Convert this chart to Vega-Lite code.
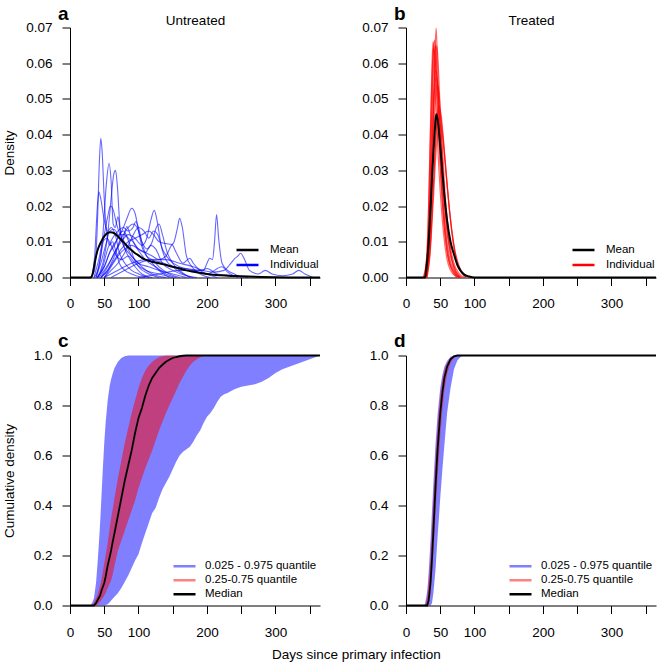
{
"$schema": "https://vega.github.io/schema/vega-lite/v6.json",
"background": "white",
"padding": {"left": 2, "top": 4.5, "right": 5, "bottom": 2},
"config": {
 "font": "Liberation Sans",
 "view": {"stroke": null},
 "axis": {"domainColor": "#000", "tickColor": "#000", "labelColor": "#000", "titleColor": "#000", "labelFont": "Liberation Sans", "titleFont": "Liberation Sans", "labelFontSize": 13.5, "titleFontSize": 13.5, "titleFontWeight": "normal", "grid": false, "tickSize": 8, "domainWidth": 1, "tickWidth": 1, "labelFlush": false, "labelOverlap": false, "tickCount": 10},
 "title": {"font": "Liberation Sans", "color": "#000"}
},
"resolve": {"scale": {"color": "independent"}, "legend": {"color": "independent"}},
"datasets": {
 "untreated": [
{"c":"u1","x":30,"y":0},{"c":"u1","x":36,"y":0.002},{"c":"u1","x":40,"y":0.015},{"c":"u1","x":43,"y":0.033},{"c":"u1","x":45,"y":0.039},{"c":"u1","x":47,"y":0.035},{"c":"u1","x":50,"y":0.022},{"c":"u1","x":54,"y":0.012},{"c":"u1","x":58,"y":0.009},{"c":"u1","x":62,"y":0.01},{"c":"u1","x":66,"y":0.008},{"c":"u1","x":72,"y":0.004},{"c":"u1","x":80,"y":0.002},{"c":"u1","x":90,"y":0.001},{"c":"u1","x":100,"y":0.0003},{"c":"u1","x":110,"y":0},
{"c":"u2","x":32,"y":0},{"c":"u2","x":36,"y":0.006},{"c":"u2","x":40,"y":0.02},{"c":"u2","x":42,"y":0.024},{"c":"u2","x":45,"y":0.022},{"c":"u2","x":50,"y":0.016},{"c":"u2","x":55,"y":0.013},{"c":"u2","x":60,"y":0.014},{"c":"u2","x":66,"y":0.012},{"c":"u2","x":72,"y":0.007},{"c":"u2","x":80,"y":0.004},{"c":"u2","x":90,"y":0.002},{"c":"u2","x":100,"y":0.001},{"c":"u2","x":115,"y":0},
{"c":"u3","x":35,"y":0},{"c":"u3","x":42,"y":0.003},{"c":"u3","x":48,"y":0.012},{"c":"u3","x":53,"y":0.026},{"c":"u3","x":57,"y":0.032},{"c":"u3","x":60,"y":0.027},{"c":"u3","x":63,"y":0.015},{"c":"u3","x":66,"y":0.014},{"c":"u3","x":70,"y":0.017},{"c":"u3","x":74,"y":0.012},{"c":"u3","x":80,"y":0.008},{"c":"u3","x":88,"y":0.005},{"c":"u3","x":95,"y":0.003},{"c":"u3","x":105,"y":0.001},{"c":"u3","x":120,"y":0},
{"c":"u4","x":40,"y":0},{"c":"u4","x":48,"y":0.004},{"c":"u4","x":55,"y":0.012},{"c":"u4","x":60,"y":0.022},{"c":"u4","x":64,"y":0.029},{"c":"u4","x":66.5,"y":0.03},{"c":"u4","x":69,"y":0.026},{"c":"u4","x":73,"y":0.014},{"c":"u4","x":78,"y":0.009},{"c":"u4","x":85,"y":0.007},{"c":"u4","x":95,"y":0.005},{"c":"u4","x":105,"y":0.003},{"c":"u4","x":120,"y":0.001},{"c":"u4","x":140,"y":0},
{"c":"u5","x":38,"y":0},{"c":"u5","x":44,"y":0.005},{"c":"u5","x":50,"y":0.012},{"c":"u5","x":55,"y":0.017},{"c":"u5","x":59,"y":0.02},{"c":"u5","x":63,"y":0.019},{"c":"u5","x":68,"y":0.015},{"c":"u5","x":74,"y":0.012},{"c":"u5","x":80,"y":0.012},{"c":"u5","x":86,"y":0.01},{"c":"u5","x":92,"y":0.006},{"c":"u5","x":100,"y":0.003},{"c":"u5","x":115,"y":0.001},{"c":"u5","x":130,"y":0},
{"c":"u6","x":40,"y":0},{"c":"u6","x":50,"y":0.003},{"c":"u6","x":60,"y":0.008},{"c":"u6","x":70,"y":0.011},{"c":"u6","x":78,"y":0.014},{"c":"u6","x":84,"y":0.017},{"c":"u6","x":90,"y":0.0194},{"c":"u6","x":95,"y":0.018},{"c":"u6","x":100,"y":0.013},{"c":"u6","x":106,"y":0.008},{"c":"u6","x":112,"y":0.006},{"c":"u6","x":120,"y":0.005},{"c":"u6","x":130,"y":0.003},{"c":"u6","x":145,"y":0.001},{"c":"u6","x":160,"y":0},
{"c":"u7","x":45,"y":0},{"c":"u7","x":55,"y":0.003},{"c":"u7","x":65,"y":0.007},{"c":"u7","x":75,"y":0.01},{"c":"u7","x":85,"y":0.012},{"c":"u7","x":95,"y":0.011},{"c":"u7","x":105,"y":0.009},{"c":"u7","x":112,"y":0.011},{"c":"u7","x":118,"y":0.016},{"c":"u7","x":123,"y":0.0188},{"c":"u7","x":128,"y":0.015},{"c":"u7","x":133,"y":0.009},{"c":"u7","x":140,"y":0.005},{"c":"u7","x":150,"y":0.003},{"c":"u7","x":165,"y":0.001},{"c":"u7","x":180,"y":0},
{"c":"u8","x":45,"y":0},{"c":"u8","x":55,"y":0.002},{"c":"u8","x":65,"y":0.006},{"c":"u8","x":75,"y":0.011},{"c":"u8","x":85,"y":0.014},{"c":"u8","x":92,"y":0.015},{"c":"u8","x":98,"y":0.014},{"c":"u8","x":105,"y":0.01},{"c":"u8","x":112,"y":0.008},{"c":"u8","x":120,"y":0.01},{"c":"u8","x":126,"y":0.014},{"c":"u8","x":130,"y":0.015},{"c":"u8","x":135,"y":0.012},{"c":"u8","x":142,"y":0.007},{"c":"u8","x":150,"y":0.004},{"c":"u8","x":160,"y":0.002},{"c":"u8","x":175,"y":0},
{"c":"u9","x":50,"y":0},{"c":"u9","x":60,"y":0.003},{"c":"u9","x":70,"y":0.006},{"c":"u9","x":80,"y":0.008},{"c":"u9","x":90,"y":0.009},{"c":"u9","x":100,"y":0.008},{"c":"u9","x":110,"y":0.007},{"c":"u9","x":120,"y":0.006},{"c":"u9","x":130,"y":0.005},{"c":"u9","x":140,"y":0.006},{"c":"u9","x":148,"y":0.009},{"c":"u9","x":152,"y":0.01},{"c":"u9","x":157,"y":0.014},{"c":"u9","x":160,"y":0.0166},{"c":"u9","x":164,"y":0.014},{"c":"u9","x":170,"y":0.006},{"c":"u9","x":178,"y":0.003},{"c":"u9","x":190,"y":0.001},{"c":"u9","x":205,"y":0},
{"c":"u10","x":60,"y":0},{"c":"u10","x":80,"y":0.002},{"c":"u10","x":100,"y":0.004},{"c":"u10","x":120,"y":0.005},{"c":"u10","x":140,"y":0.005},{"c":"u10","x":160,"y":0.004},{"c":"u10","x":180,"y":0.003},{"c":"u10","x":195,"y":0.002},{"c":"u10","x":200,"y":0.004},{"c":"u10","x":204,"y":0.0054},{"c":"u10","x":208,"y":0.005},{"c":"u10","x":211,"y":0.01},{"c":"u10","x":214,"y":0.0176},{"c":"u10","x":217,"y":0.011},{"c":"u10","x":222,"y":0.004},{"c":"u10","x":230,"y":0.002},{"c":"u10","x":240,"y":0.001},{"c":"u10","x":250,"y":0},
{"c":"u11","x":100,"y":0},{"c":"u11","x":130,"y":0.001},{"c":"u11","x":160,"y":0.002},{"c":"u11","x":190,"y":0.002},{"c":"u11","x":210,"y":0.0015},{"c":"u11","x":225,"y":0.002},{"c":"u11","x":235,"y":0.004},{"c":"u11","x":241,"y":0.0054},{"c":"u11","x":245,"y":0.006},{"c":"u11","x":249,"y":0.0068},{"c":"u11","x":255,"y":0.005},{"c":"u11","x":262,"y":0.002},{"c":"u11","x":275,"y":0.001},{"c":"u11","x":285,"y":0.002},{"c":"u11","x":295,"y":0.001},{"c":"u11","x":310,"y":0.0005},{"c":"u11","x":325,"y":0.001},{"c":"u11","x":334,"y":0.002},{"c":"u11","x":343,"y":0.001},{"c":"u11","x":355,"y":0},
{"c":"u12","x":38,"y":0},{"c":"u12","x":45,"y":0.004},{"c":"u12","x":52,"y":0.009},{"c":"u12","x":58,"y":0.013},{"c":"u12","x":64,"y":0.0135},{"c":"u12","x":70,"y":0.012},{"c":"u12","x":76,"y":0.01},{"c":"u12","x":83,"y":0.0143},{"c":"u12","x":88,"y":0.012},{"c":"u12","x":95,"y":0.009},{"c":"u12","x":102,"y":0.007},{"c":"u12","x":110,"y":0.005},{"c":"u12","x":125,"y":0.003},{"c":"u12","x":140,"y":0.001},{"c":"u12","x":155,"y":0},
{"c":"u13","x":40,"y":0},{"c":"u13","x":48,"y":0.003},{"c":"u13","x":55,"y":0.008},{"c":"u13","x":62,"y":0.011},{"c":"u13","x":70,"y":0.013},{"c":"u13","x":78,"y":0.014},{"c":"u13","x":85,"y":0.013},{"c":"u13","x":92,"y":0.014},{"c":"u13","x":96,"y":0.0157},{"c":"u13","x":100,"y":0.014},{"c":"u13","x":106,"y":0.009},{"c":"u13","x":112,"y":0.006},{"c":"u13","x":120,"y":0.004},{"c":"u13","x":130,"y":0.002},{"c":"u13","x":145,"y":0},
{"c":"u14","x":45,"y":0},{"c":"u14","x":55,"y":0.002},{"c":"u14","x":65,"y":0.005},{"c":"u14","x":75,"y":0.008},{"c":"u14","x":85,"y":0.01},{"c":"u14","x":95,"y":0.011},{"c":"u14","x":105,"y":0.012},{"c":"u14","x":115,"y":0.013},{"c":"u14","x":122,"y":0.012},{"c":"u14","x":130,"y":0.01},{"c":"u14","x":140,"y":0.0095},{"c":"u14","x":149,"y":0.0092},{"c":"u14","x":155,"y":0.007},{"c":"u14","x":165,"y":0.004},{"c":"u14","x":175,"y":0.0054},{"c":"u14","x":180,"y":0.004},{"c":"u14","x":190,"y":0.002},{"c":"u14","x":200,"y":0.001},{"c":"u14","x":215,"y":0},
{"c":"u15","x":35,"y":0},{"c":"u15","x":42,"y":0.005},{"c":"u15","x":48,"y":0.01},{"c":"u15","x":54,"y":0.011},{"c":"u15","x":60,"y":0.009},{"c":"u15","x":68,"y":0.006},{"c":"u15","x":75,"y":0.005},{"c":"u15","x":85,"y":0.006},{"c":"u15","x":95,"y":0.004},{"c":"u15","x":110,"y":0.002},{"c":"u15","x":130,"y":0.001},{"c":"u15","x":150,"y":0},
{"c":"u16","x":50,"y":0},{"c":"u16","x":60,"y":0.002},{"c":"u16","x":70,"y":0.004},{"c":"u16","x":80,"y":0.007},{"c":"u16","x":90,"y":0.011},{"c":"u16","x":100,"y":0.014},{"c":"u16","x":108,"y":0.013},{"c":"u16","x":115,"y":0.011},{"c":"u16","x":122,"y":0.013},{"c":"u16","x":128,"y":0.012},{"c":"u16","x":135,"y":0.008},{"c":"u16","x":145,"y":0.005},{"c":"u16","x":160,"y":0.003},{"c":"u16","x":180,"y":0.002},{"c":"u16","x":200,"y":0.001},{"c":"u16","x":222,"y":0.003},{"c":"u16","x":230,"y":0.0015},{"c":"u16","x":245,"y":0},
{"c":"u17","x":40,"y":0},{"c":"u17","x":50,"y":0.003},{"c":"u17","x":58,"y":0.007},{"c":"u17","x":65,"y":0.009},{"c":"u17","x":72,"y":0.012},{"c":"u17","x":78,"y":0.013},{"c":"u17","x":85,"y":0.011},{"c":"u17","x":92,"y":0.01},{"c":"u17","x":100,"y":0.008},{"c":"u17","x":110,"y":0.007},{"c":"u17","x":118,"y":0.009},{"c":"u17","x":125,"y":0.008},{"c":"u17","x":135,"y":0.004},{"c":"u17","x":150,"y":0.002},{"c":"u17","x":170,"y":0.0005},{"c":"u17","x":185,"y":0},
{"c":"u18","x":42,"y":0},{"c":"u18","x":50,"y":0.002},{"c":"u18","x":60,"y":0.005},{"c":"u18","x":68,"y":0.008},{"c":"u18","x":75,"y":0.011},{"c":"u18","x":82,"y":0.009},{"c":"u18","x":90,"y":0.006},{"c":"u18","x":100,"y":0.004},{"c":"u18","x":115,"y":0.003},{"c":"u18","x":130,"y":0.002},{"c":"u18","x":150,"y":0.001},{"c":"u18","x":170,"y":0},
{"c":"u19","x":50,"y":0},{"c":"u19","x":70,"y":0.002},{"c":"u19","x":90,"y":0.004},{"c":"u19","x":110,"y":0.005},{"c":"u19","x":130,"y":0.0045},{"c":"u19","x":150,"y":0.003},{"c":"u19","x":170,"y":0.0025},{"c":"u19","x":190,"y":0.002},{"c":"u19","x":200,"y":0.0025},{"c":"u19","x":215,"y":0.001},{"c":"u19","x":240,"y":0.0005},{"c":"u19","x":260,"y":0}
 ],
 "untreated_mean": [
{"x":0,"y":0},{"x":30,"y":0},{"x":33,"y":0.001},{"x":37,"y":0.005},{"x":40,"y":0.0075},{"x":45,"y":0.0098},{"x":50,"y":0.0115},{"x":55,"y":0.0125},{"x":58,"y":0.0127},{"x":62,"y":0.0126},{"x":66,"y":0.0122},{"x":70,"y":0.0115},{"x":75,"y":0.0105},{"x":80,"y":0.0095},{"x":85,"y":0.0085},{"x":90,"y":0.0076},{"x":95,"y":0.0068},{"x":100,"y":0.0062},{"x":105,"y":0.0055},{"x":110,"y":0.005},{"x":115,"y":0.0047},{"x":120,"y":0.0044},{"x":125,"y":0.0042},{"x":130,"y":0.004},{"x":140,"y":0.0035},{"x":150,"y":0.003},{"x":160,"y":0.0025},{"x":170,"y":0.002},{"x":180,"y":0.0016},{"x":190,"y":0.0013},{"x":200,"y":0.001},{"x":210,"y":0.0008},{"x":220,"y":0.0006},{"x":240,"y":0.0004},{"x":260,"y":0.00025},{"x":280,"y":0.00015},{"x":300,"y":0.00008},{"x":320,"y":0.00003},{"x":340,"y":0.00001},{"x":365,"y":0}
 ],
 "treated": [
{"c":"t1","x":25,"y":0},{"c":"t1","x":30,"y":0.005},{"c":"t1","x":33,"y":0.02},{"c":"t1","x":36,"y":0.045},{"c":"t1","x":38,"y":0.06},{"c":"t1","x":39.5,"y":0.066},{"c":"t1","x":41,"y":0.063},{"c":"t1","x":43,"y":0.052},{"c":"t1","x":46,"y":0.038},{"c":"t1","x":50,"y":0.024},{"c":"t1","x":55,"y":0.012},{"c":"t1","x":60,"y":0.005},{"c":"t1","x":65,"y":0.002},{"c":"t1","x":72,"y":0.0005},{"c":"t1","x":80,"y":0},
{"c":"t2","x":27,"y":0},{"c":"t2","x":32,"y":0.008},{"c":"t2","x":35,"y":0.025},{"c":"t2","x":38,"y":0.05},{"c":"t2","x":40.5,"y":0.065},{"c":"t2","x":42,"y":0.0665},{"c":"t2","x":44,"y":0.06},{"c":"t2","x":47,"y":0.045},{"c":"t2","x":51,"y":0.028},{"c":"t2","x":56,"y":0.014},{"c":"t2","x":62,"y":0.005},{"c":"t2","x":68,"y":0.002},{"c":"t2","x":76,"y":0},
{"c":"t3","x":28,"y":0},{"c":"t3","x":33,"y":0.008},{"c":"t3","x":37,"y":0.028},{"c":"t3","x":40,"y":0.048},{"c":"t3","x":42.5,"y":0.064},{"c":"t3","x":44,"y":0.0698},{"c":"t3","x":45.5,"y":0.063},{"c":"t3","x":48,"y":0.048},{"c":"t3","x":52,"y":0.03},{"c":"t3","x":57,"y":0.015},{"c":"t3","x":63,"y":0.006},{"c":"t3","x":70,"y":0.002},{"c":"t3","x":78,"y":0},
{"c":"t4","x":28,"y":0},{"c":"t4","x":33,"y":0.006},{"c":"t4","x":37,"y":0.022},{"c":"t4","x":40,"y":0.042},{"c":"t4","x":43,"y":0.06},{"c":"t4","x":45,"y":0.065},{"c":"t4","x":47,"y":0.06},{"c":"t4","x":50,"y":0.046},{"c":"t4","x":54,"y":0.03},{"c":"t4","x":59,"y":0.016},{"c":"t4","x":65,"y":0.007},{"c":"t4","x":72,"y":0.002},{"c":"t4","x":80,"y":0},
{"c":"t5","x":26,"y":0},{"c":"t5","x":31,"y":0.006},{"c":"t5","x":35,"y":0.024},{"c":"t5","x":38,"y":0.046},{"c":"t5","x":41,"y":0.062},{"c":"t5","x":43,"y":0.065},{"c":"t5","x":45,"y":0.058},{"c":"t5","x":48,"y":0.044},{"c":"t5","x":52,"y":0.028},{"c":"t5","x":57,"y":0.014},{"c":"t5","x":63,"y":0.005},{"c":"t5","x":70,"y":0.0015},{"c":"t5","x":78,"y":0},
{"c":"t6","x":30,"y":0},{"c":"t6","x":35,"y":0.008},{"c":"t6","x":40,"y":0.026},{"c":"t6","x":44,"y":0.04},{"c":"t6","x":48,"y":0.048},{"c":"t6","x":51,"y":0.046},{"c":"t6","x":55,"y":0.038},{"c":"t6","x":60,"y":0.026},{"c":"t6","x":66,"y":0.014},{"c":"t6","x":72,"y":0.006},{"c":"t6","x":80,"y":0.002},{"c":"t6","x":88,"y":0},
{"c":"t7","x":30,"y":0},{"c":"t7","x":35,"y":0.006},{"c":"t7","x":40,"y":0.022},{"c":"t7","x":45,"y":0.038},{"c":"t7","x":49,"y":0.043},{"c":"t7","x":53,"y":0.04},{"c":"t7","x":58,"y":0.03},{"c":"t7","x":64,"y":0.018},{"c":"t7","x":70,"y":0.009},{"c":"t7","x":77,"y":0.003},{"c":"t7","x":85,"y":0.001},{"c":"t7","x":92,"y":0},
{"c":"t8","x":28,"y":0},{"c":"t8","x":33,"y":0.01},{"c":"t8","x":37,"y":0.032},{"c":"t8","x":40,"y":0.05},{"c":"t8","x":43,"y":0.058},{"c":"t8","x":46,"y":0.055},{"c":"t8","x":49,"y":0.044},{"c":"t8","x":53,"y":0.03},{"c":"t8","x":58,"y":0.016},{"c":"t8","x":64,"y":0.007},{"c":"t8","x":70,"y":0.0025},{"c":"t8","x":78,"y":0},
{"c":"t9","x":29,"y":0},{"c":"t9","x":34,"y":0.01},{"c":"t9","x":38,"y":0.032},{"c":"t9","x":41,"y":0.05},{"c":"t9","x":44,"y":0.056},{"c":"t9","x":47,"y":0.052},{"c":"t9","x":50,"y":0.042},{"c":"t9","x":55,"y":0.026},{"c":"t9","x":60,"y":0.014},{"c":"t9","x":67,"y":0.005},{"c":"t9","x":74,"y":0.0015},{"c":"t9","x":82,"y":0},
{"c":"t10","x":27,"y":0},{"c":"t10","x":32,"y":0.012},{"c":"t10","x":35,"y":0.035},{"c":"t10","x":38,"y":0.056},{"c":"t10","x":40,"y":0.064},{"c":"t10","x":42,"y":0.062},{"c":"t10","x":45,"y":0.05},{"c":"t10","x":49,"y":0.034},{"c":"t10","x":54,"y":0.018},{"c":"t10","x":60,"y":0.007},{"c":"t10","x":66,"y":0.0025},{"c":"t10","x":74,"y":0},
{"c":"t11","x":31,"y":0},{"c":"t11","x":36,"y":0.01},{"c":"t11","x":41,"y":0.03},{"c":"t11","x":45,"y":0.044},{"c":"t11","x":48,"y":0.047},{"c":"t11","x":52,"y":0.043},{"c":"t11","x":57,"y":0.033},{"c":"t11","x":63,"y":0.02},{"c":"t11","x":70,"y":0.009},{"c":"t11","x":78,"y":0.003},{"c":"t11","x":86,"y":0},
{"c":"t12","x":29,"y":0},{"c":"t12","x":34,"y":0.008},{"c":"t12","x":38,"y":0.026},{"c":"t12","x":42,"y":0.046},{"c":"t12","x":45,"y":0.054},{"c":"t12","x":48,"y":0.052},{"c":"t12","x":52,"y":0.04},{"c":"t12","x":57,"y":0.024},{"c":"t12","x":63,"y":0.011},{"c":"t12","x":70,"y":0.004},{"c":"t12","x":78,"y":0.001},{"c":"t12","x":85,"y":0}
 ],
 "treated_mean": [
{"x":0,"y":0},{"x":28,"y":0},{"x":30,"y":0.003},{"x":32,"y":0.007},{"x":34,"y":0.013},{"x":36,"y":0.02},{"x":38,"y":0.028},{"x":40,"y":0.035},{"x":42,"y":0.041},{"x":44,"y":0.0457},{"x":46,"y":0.0445},{"x":49,"y":0.039},{"x":52,"y":0.032},{"x":56,"y":0.023},{"x":60,"y":0.016},{"x":65,"y":0.01},{"x":70,"y":0.0065},{"x":75,"y":0.0035},{"x":80,"y":0.0018},{"x":85,"y":0.0008},{"x":92,"y":0.0003},{"x":100,"y":0},{"x":365,"y":0}
 ],
 "cum_untreated": [
{"x":0,"blo":0,"bhi":0,"rlo":0,"rhi":0,"med":0},
{"x":30,"blo":0,"bhi":0,"rlo":0,"rhi":0,"med":0},
{"x":33,"blo":0,"bhi":0.015,"rlo":0,"rhi":0,"med":0},
{"x":35,"blo":0,"bhi":0.03,"rlo":0,"rhi":0.01,"med":0},
{"x":38,"blo":0,"bhi":0.09,"rlo":0,"rhi":0.03,"med":0.01},
{"x":40,"blo":0,"bhi":0.16,"rlo":0.003,"rhi":0.04,"med":0.02},
{"x":42,"blo":0,"bhi":0.24,"rlo":0.008,"rhi":0.06,"med":0.03},
{"x":44,"blo":0,"bhi":0.33,"rlo":0.015,"rhi":0.08,"med":0.04},
{"x":46,"blo":0,"bhi":0.44,"rlo":0.023,"rhi":0.105,"med":0.06},
{"x":48,"blo":0,"bhi":0.55,"rlo":0.03,"rhi":0.135,"med":0.075},
{"x":50,"blo":0,"bhi":0.65,"rlo":0.04,"rhi":0.17,"med":0.09},
{"x":52,"blo":0.002,"bhi":0.73,"rlo":0.05,"rhi":0.2,"med":0.115},
{"x":55,"blo":0.005,"bhi":0.82,"rlo":0.07,"rhi":0.25,"med":0.16},
{"x":58,"blo":0.013,"bhi":0.88,"rlo":0.088,"rhi":0.31,"med":0.195},
{"x":60,"blo":0.02,"bhi":0.905,"rlo":0.1,"rhi":0.35,"med":0.22},
{"x":62,"blo":0.026,"bhi":0.925,"rlo":0.12,"rhi":0.38,"med":0.25},
{"x":65,"blo":0.035,"bhi":0.95,"rlo":0.16,"rhi":0.43,"med":0.29},
{"x":70,"blo":0.05,"bhi":0.975,"rlo":0.22,"rhi":0.51,"med":0.36},
{"x":75,"blo":0.07,"bhi":0.99,"rlo":0.26,"rhi":0.58,"med":0.43},
{"x":80,"blo":0.095,"bhi":0.997,"rlo":0.3,"rhi":0.65,"med":0.5},
{"x":85,"blo":0.12,"bhi":1,"rlo":0.34,"rhi":0.71,"med":0.56},
{"x":90,"blo":0.15,"bhi":1,"rlo":0.38,"rhi":0.77,"med":0.62},
{"x":95,"blo":0.18,"bhi":1,"rlo":0.42,"rhi":0.82,"med":0.69},
{"x":100,"blo":0.205,"bhi":1,"rlo":0.47,"rhi":0.87,"med":0.75},
{"x":105,"blo":0.25,"bhi":1,"rlo":0.51,"rhi":0.91,"med":0.79},
{"x":110,"blo":0.29,"bhi":1,"rlo":0.55,"rhi":0.94,"med":0.84},
{"x":115,"blo":0.33,"bhi":1,"rlo":0.585,"rhi":0.96,"med":0.88},
{"x":120,"blo":0.37,"bhi":1,"rlo":0.62,"rhi":0.975,"med":0.91},
{"x":125,"blo":0.39,"bhi":1,"rlo":0.66,"rhi":0.985,"med":0.93},
{"x":130,"blo":0.43,"bhi":1,"rlo":0.7,"rhi":0.993,"med":0.95},
{"x":135,"blo":0.465,"bhi":1,"rlo":0.735,"rhi":0.997,"med":0.963},
{"x":140,"blo":0.49,"bhi":1,"rlo":0.77,"rhi":1,"med":0.975},
{"x":145,"blo":0.515,"bhi":1,"rlo":0.8,"rhi":1,"med":0.983},
{"x":150,"blo":0.545,"bhi":1,"rlo":0.83,"rhi":1,"med":0.99},
{"x":155,"blo":0.575,"bhi":1,"rlo":0.86,"rhi":1,"med":0.994},
{"x":160,"blo":0.6,"bhi":1,"rlo":0.89,"rhi":1,"med":0.997},
{"x":165,"blo":0.615,"bhi":1,"rlo":0.915,"rhi":1,"med":0.999},
{"x":170,"blo":0.625,"bhi":1,"rlo":0.94,"rhi":1,"med":1},
{"x":175,"blo":0.635,"bhi":1,"rlo":0.96,"rhi":1,"med":1},
{"x":180,"blo":0.655,"bhi":1,"rlo":0.975,"rhi":1,"med":1},
{"x":185,"blo":0.68,"bhi":1,"rlo":0.985,"rhi":1,"med":1},
{"x":190,"blo":0.7,"bhi":1,"rlo":0.993,"rhi":1,"med":1},
{"x":195,"blo":0.73,"bhi":1,"rlo":0.998,"rhi":1,"med":1},
{"x":200,"blo":0.755,"bhi":1,"rlo":1,"rhi":1,"med":1},
{"x":205,"blo":0.77,"bhi":1,"rlo":1,"rhi":1,"med":1},
{"x":210,"blo":0.79,"bhi":1,"rlo":1,"rhi":1,"med":1},
{"x":215,"blo":0.815,"bhi":1,"rlo":1,"rhi":1,"med":1},
{"x":220,"blo":0.835,"bhi":1,"rlo":1,"rhi":1,"med":1},
{"x":225,"blo":0.845,"bhi":1,"rlo":1,"rhi":1,"med":1},
{"x":230,"blo":0.85,"bhi":1,"rlo":1,"rhi":1,"med":1},
{"x":240,"blo":0.865,"bhi":1,"rlo":1,"rhi":1,"med":1},
{"x":250,"blo":0.875,"bhi":1,"rlo":1,"rhi":1,"med":1},
{"x":260,"blo":0.88,"bhi":1,"rlo":1,"rhi":1,"med":1},
{"x":270,"blo":0.885,"bhi":1,"rlo":1,"rhi":1,"med":1},
{"x":280,"blo":0.895,"bhi":1,"rlo":1,"rhi":1,"med":1},
{"x":290,"blo":0.91,"bhi":1,"rlo":1,"rhi":1,"med":1},
{"x":300,"blo":0.93,"bhi":1,"rlo":1,"rhi":1,"med":1},
{"x":310,"blo":0.945,"bhi":1,"rlo":1,"rhi":1,"med":1},
{"x":320,"blo":0.955,"bhi":1,"rlo":1,"rhi":1,"med":1},
{"x":330,"blo":0.965,"bhi":1,"rlo":1,"rhi":1,"med":1},
{"x":340,"blo":0.975,"bhi":1,"rlo":1,"rhi":1,"med":1},
{"x":350,"blo":0.985,"bhi":1,"rlo":1,"rhi":1,"med":1},
{"x":360,"blo":0.995,"bhi":1,"rlo":1,"rhi":1,"med":1},
{"x":365,"blo":1,"bhi":1,"rlo":1,"rhi":1,"med":1}
 ],
 "cum_treated": [
{"x":0,"blo":0,"bhi":0,"rlo":0,"rhi":0,"med":0},
{"x":27,"blo":0,"bhi":0,"rlo":0,"rhi":0,"med":0},
{"x":28,"blo":0,"bhi":0.01,"rlo":0,"rhi":0,"med":0},
{"x":30,"blo":0,"bhi":0.04,"rlo":0,"rhi":0.02,"med":0},
{"x":31,"blo":0,"bhi":0.06,"rlo":0,"rhi":0.035,"med":0},
{"x":32,"blo":0,"bhi":0.09,"rlo":0,"rhi":0.06,"med":0.01},
{"x":33,"blo":0,"bhi":0.13,"rlo":0,"rhi":0.09,"med":0.02},
{"x":35,"blo":0,"bhi":0.22,"rlo":0.03,"rhi":0.16,"med":0.07},
{"x":36,"blo":0,"bhi":0.27,"rlo":0.05,"rhi":0.2,"med":0.1},
{"x":38,"blo":0.01,"bhi":0.38,"rlo":0.12,"rhi":0.31,"med":0.19},
{"x":40,"blo":0.05,"bhi":0.49,"rlo":0.21,"rhi":0.42,"med":0.3},
{"x":43,"blo":0.14,"bhi":0.64,"rlo":0.36,"rhi":0.58,"med":0.47},
{"x":46,"blo":0.27,"bhi":0.76,"rlo":0.51,"rhi":0.71,"med":0.62},
{"x":50,"blo":0.43,"bhi":0.87,"rlo":0.68,"rhi":0.84,"med":0.77},
{"x":53,"blo":0.54,"bhi":0.92,"rlo":0.78,"rhi":0.9,"med":0.85},
{"x":56,"blo":0.64,"bhi":0.955,"rlo":0.86,"rhi":0.94,"med":0.91},
{"x":60,"blo":0.77,"bhi":0.978,"rlo":0.925,"rhi":0.97,"med":0.955},
{"x":65,"blo":0.87,"bhi":0.995,"rlo":0.97,"rhi":0.99,"med":0.985},
{"x":70,"blo":0.945,"bhi":1,"rlo":0.99,"rhi":0.998,"med":0.997},
{"x":75,"blo":0.98,"bhi":1,"rlo":0.998,"rhi":1,"med":1},
{"x":80,"blo":0.995,"bhi":1,"rlo":1,"rhi":1,"med":1},
{"x":85,"blo":1,"bhi":1,"rlo":1,"rhi":1,"med":1},
{"x":365,"blo":1,"bhi":1,"rlo":1,"rhi":1,"med":1}
 ]
},
"title": {"text": "Days since primary infection", "orient": "bottom", "anchor": "middle", "frame": "bounds", "fontSize": 13.5, "fontWeight": "normal", "dx": 25, "offset": 9.5},
"columns": 2,
"spacing": {"row": 21, "column": 37},
"concat": [
 {
  "width": 250, "height": 250,
  "title": {"text": "a", "anchor": "start", "frame": "group", "dx": -12, "fontSize": 19, "fontWeight": "bold", "offset": -10},
  "layer": [
   {"data": {"name": "untreated"}, "mark": {"type": "line", "interpolate": "monotone", "strokeWidth": 1.1, "opacity": 0.6},
    "encoding": {
     "x": {"field": "x", "type": "quantitative", "scale": {"domain": [0, 365], "nice": false}, "axis": {"values": [0,50,100,150,200,250,300,350], "tickCount": 10, "labelExpr": "indexof([0,50,100,200,300], datum.value) >= 0 ? datum.label : ''", "title": null, "labelPadding": 11, "labelOverlap": false, "labelFlush": false}},
     "y": {"field": "y", "type": "quantitative", "scale": {"domain": [0, 0.07], "nice": false}, "axis": {"values": [0,0.01,0.02,0.03,0.04,0.05,0.06,0.07], "tickCount": 10, "format": ".2f", "title": "Density", "titlePadding": 9, "labelPadding": 10, "labelOverlap": false, "labelFlush": false}},
     "detail": {"field": "c"},
     "color": {"datum": "Individual", "scale": {"domain": ["Mean", "Individual"], "range": ["#000000", "#0000ff"]},
      "legend": {"orient": "none", "legendX": 165, "legendY": 215, "title": null, "symbolType": "stroke", "symbolSize": 484, "symbolStrokeWidth": 2.5, "symbolOpacity": 1, "labelFontSize": 11.5, "labelFont": "Liberation Sans", "labelColor": "#000", "labelOffset": 10, "padding": 0, "rowPadding": 0, "clipHeight": 15}}
    }},
   {"data": {"name": "untreated_mean"}, "mark": {"type": "line", "interpolate": "monotone", "strokeWidth": 2},
    "encoding": {
     "x": {"field": "x", "type": "quantitative", "scale": {"domain": [0, 365], "nice": false}, "axis": {"orient": "top", "domain": false, "ticks": false, "labels": false, "title": "Untreated", "titlePadding": 0}},
     "y": {"field": "y", "type": "quantitative", "scale": {"domain": [0, 0.07], "nice": false}},
     "color": {"datum": "Mean"}
    }}
  ],
  "resolve": {"axis": {"x": "independent"}}
 },
 {
  "width": 250, "height": 250,
  "title": {"text": "b", "anchor": "start", "frame": "group", "dx": -12, "fontSize": 19, "fontWeight": "bold", "offset": -10},
  "layer": [
   {"data": {"name": "treated"}, "mark": {"type": "line", "interpolate": "monotone", "strokeWidth": 1.2, "opacity": 0.6},
    "encoding": {
     "x": {"field": "x", "type": "quantitative", "scale": {"domain": [0, 365], "nice": false}, "axis": {"values": [0,50,100,150,200,250,300,350], "tickCount": 10, "labelExpr": "indexof([0,50,100,200,300], datum.value) >= 0 ? datum.label : ''", "title": null, "labelPadding": 11, "labelOverlap": false, "labelFlush": false}},
     "y": {"field": "y", "type": "quantitative", "scale": {"domain": [0, 0.07], "nice": false}, "axis": {"values": [0,0.01,0.02,0.03,0.04,0.05,0.06,0.07], "tickCount": 10, "format": ".2f", "title": null, "labelPadding": 10, "labelOverlap": false, "labelFlush": false}},
     "detail": {"field": "c"},
     "color": {"datum": "Individual", "scale": {"domain": ["Mean", "Individual"], "range": ["#000000", "#ff0000"]},
      "legend": {"orient": "none", "legendX": 165, "legendY": 215, "title": null, "symbolType": "stroke", "symbolSize": 484, "symbolStrokeWidth": 2.5, "symbolOpacity": 1, "labelFontSize": 11.5, "labelFont": "Liberation Sans", "labelColor": "#000", "labelOffset": 10, "padding": 0, "rowPadding": 0, "clipHeight": 15}}
    }},
   {"data": {"name": "treated_mean"}, "mark": {"type": "line", "interpolate": "monotone", "strokeWidth": 2},
    "encoding": {
     "x": {"field": "x", "type": "quantitative", "scale": {"domain": [0, 365], "nice": false}, "axis": {"orient": "top", "domain": false, "ticks": false, "labels": false, "title": "Treated", "titlePadding": 0}},
     "y": {"field": "y", "type": "quantitative", "scale": {"domain": [0, 0.07], "nice": false}},
     "color": {"datum": "Mean"}
    }}
  ],
  "resolve": {"axis": {"x": "independent"}}
 },
 {
  "width": 250, "height": 250,
  "title": {"text": "c", "anchor": "start", "frame": "group", "dx": -12, "fontSize": 19, "fontWeight": "bold", "offset": -2},
  "data": {"name": "cum_untreated"},
  "encoding": {
   "x": {"field": "x", "type": "quantitative", "scale": {"domain": [0, 365], "nice": false}, "axis": {"values": [0,50,100,150,200,250,300,350], "tickCount": 10, "labelExpr": "indexof([0,50,100,200,300], datum.value) >= 0 ? datum.label : ''", "title": null, "labelPadding": 11.5, "labelOverlap": false, "labelFlush": false}}
  },
  "layer": [
   {"mark": {"type": "area", "color": "#0000ff", "opacity": 0.5},
    "encoding": {
     "y": {"field": "blo", "type": "quantitative", "scale": {"domain": [0, 1], "nice": false}, "axis": {"values": [0,0.2,0.4,0.6,0.8,1], "tickCount": 10, "format": ".1f", "title": "Cumulative density", "titlePadding": 16.5, "labelPadding": 10, "labelOverlap": false, "labelFlush": false}},
     "y2": {"field": "bhi"}
    }},
   {"mark": {"type": "area", "color": "#ff0000", "opacity": 0.5},
    "encoding": {
     "y": {"field": "rlo", "type": "quantitative"},
     "y2": {"field": "rhi"}
    }},
   {"mark": {"type": "line", "strokeWidth": 1},
    "encoding": {
     "y": {"field": "med", "type": "quantitative"},
     "color": {"datum": "0.025 - 0.975 quantile", "scale": {"domain": ["0.025 - 0.975 quantile", "0.25-0.75 quantile", "Median"], "range": ["#8080ff", "#ff8080", "#000000"]},
      "legend": {"orient": "none", "legendX": 102, "legendY": 204, "title": null, "symbolType": "stroke", "symbolSize": 484, "symbolStrokeWidth": 2.5, "symbolOpacity": 1, "labelFontSize": 11.5, "labelFont": "Liberation Sans", "labelColor": "#000", "labelOffset": 8, "padding": 0, "rowPadding": 0, "clipHeight": 13.3}}
    }},
   {"mark": {"type": "line", "strokeWidth": 1},
    "encoding": {
     "y": {"field": "med", "type": "quantitative"},
     "color": {"datum": "0.25-0.75 quantile"}
    }},
   {"mark": {"type": "line", "strokeWidth": 1.8},
    "encoding": {
     "y": {"field": "med", "type": "quantitative"},
     "color": {"datum": "Median"}
    }}
  ]
 },
 {
  "width": 250, "height": 250,
  "title": {"text": "d", "anchor": "start", "frame": "group", "dx": -12, "fontSize": 19, "fontWeight": "bold", "offset": -2},
  "data": {"name": "cum_treated"},
  "encoding": {
   "x": {"field": "x", "type": "quantitative", "scale": {"domain": [0, 365], "nice": false}, "axis": {"values": [0,50,100,150,200,250,300,350], "tickCount": 10, "labelExpr": "indexof([0,50,100,200,300], datum.value) >= 0 ? datum.label : ''", "title": null, "labelPadding": 11.5, "labelOverlap": false, "labelFlush": false}}
  },
  "layer": [
   {"mark": {"type": "area", "color": "#0000ff", "opacity": 0.5},
    "encoding": {
     "y": {"field": "blo", "type": "quantitative", "scale": {"domain": [0, 1], "nice": false}, "axis": {"values": [0,0.2,0.4,0.6,0.8,1], "tickCount": 10, "format": ".1f", "title": null, "labelPadding": 10, "labelOverlap": false, "labelFlush": false}},
     "y2": {"field": "bhi"}
    }},
   {"mark": {"type": "area", "color": "#ff0000", "opacity": 0.5},
    "encoding": {
     "y": {"field": "rlo", "type": "quantitative"},
     "y2": {"field": "rhi"}
    }},
   {"mark": {"type": "line", "strokeWidth": 1},
    "encoding": {
     "y": {"field": "med", "type": "quantitative"},
     "color": {"datum": "0.025 - 0.975 quantile", "scale": {"domain": ["0.025 - 0.975 quantile", "0.25-0.75 quantile", "Median"], "range": ["#8080ff", "#ff8080", "#000000"]},
      "legend": {"orient": "none", "legendX": 102, "legendY": 204, "title": null, "symbolType": "stroke", "symbolSize": 484, "symbolStrokeWidth": 2.5, "symbolOpacity": 1, "labelFontSize": 11.5, "labelFont": "Liberation Sans", "labelColor": "#000", "labelOffset": 8, "padding": 0, "rowPadding": 0, "clipHeight": 13.3}}
    }},
   {"mark": {"type": "line", "strokeWidth": 1},
    "encoding": {
     "y": {"field": "med", "type": "quantitative"},
     "color": {"datum": "0.25-0.75 quantile"}
    }},
   {"mark": {"type": "line", "strokeWidth": 1.8},
    "encoding": {
     "y": {"field": "med", "type": "quantitative"},
     "color": {"datum": "Median"}
    }}
  ]
 }
]
}
